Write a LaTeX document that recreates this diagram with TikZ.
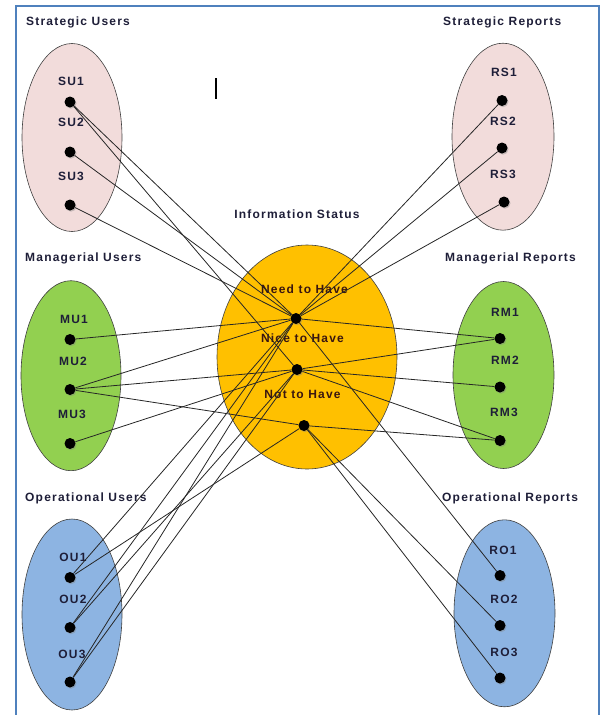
\documentclass[tikz,border=0pt]{standalone}
\usepackage{fontspec}
\newfontfamily\diagfont{Liberation Sans}[LetterSpace=10]
\usetikzlibrary{positioning,shapes.geometric,shadows}

\definecolor{strategicfill}{HTML}{F2DCDB}
\definecolor{managerialfill}{HTML}{92D050}
\definecolor{operationalfill}{HTML}{8DB4E2}
\definecolor{statusfill}{HTML}{FFC000}
\definecolor{framecol}{HTML}{4F81BD}
\definecolor{labeltext}{HTML}{1E1E38}
\definecolor{statustext}{HTML}{3A1610}

\tikzset{
  cluster/.style={ellipse, draw=black!75, line width=0.6pt, minimum width=100pt, minimum height=188pt},
  itemdot/.style={circle, fill=black, inner sep=0pt, minimum size=11pt,
    drop shadow={shadow xshift=1pt, shadow yshift=-1.2pt, opacity=0.4}},
  lbl/.style={inner sep=0pt, text=labeltext},
  grouptitle/.style={inner sep=0pt, anchor=base west, text=labeltext},
  link/.style={draw=black!85, line width=0.8pt},
}

\begin{document}
\begin{tikzpicture}[x=1pt, y=-1pt, font=\diagfont\bfseries\fontsize{12}{14}\selectfont]

  \useasboundingbox (0,0) rectangle (603,715);

  % Frame
  \draw[framecol, line width=2pt] (16,715) -- (16,6) -- (598.5,6) -- (598.5,715);
  \draw[line width=2.5pt] (216,78) -- (216,99);

  % Define groups
  \node[cluster, fill=strategicfill]                       (su) at (72,137.5) {};
  \node[cluster, fill=managerialfill, minimum height=190pt] (mu) at (71,375.7) {};
  \node[cluster, fill=operationalfill, minimum height=191pt] (ou) at (72,614.5) {};
  \node[cluster, fill=strategicfill, minimum width=102pt, minimum height=187pt]   (rs) at (503,136.7) {};
  \node[cluster, fill=managerialfill, minimum width=101pt, minimum height=187pt]  (rm) at (503.5,375) {};
  \node[cluster, fill=operationalfill, minimum width=101pt, minimum height=187pt] (ro) at (504.5,613.3) {};
  \node[cluster, fill=statusfill, minimum width=180pt, minimum height=224pt]       (status) at (307,357) {};

  % Group titles
  \node[grouptitle] (t_su) at (26,25.5)  {Strategic Users};
  \node[grouptitle] (t_rs) at (443,25.5) {Strategic Reports};
  \node[grouptitle] (t_mu) at (25,261.5) {Managerial Users};
  \node[grouptitle] (t_rm) at (445,261.5) {Managerial Reports};
  \node[grouptitle] (t_ou) at (25,501.5) {Operational Users};
  \node[grouptitle] (t_ro) at (442,501.5) {Operational Reports};
  \node[grouptitle, anchor=base] (t_status) at (297,218.5) {Information Status};

  % Define nodes
  \node[itemdot] (su1) at (70,102) {};
  \node[itemdot] (su2) at (70,152) {};
  \node[itemdot] (su3) at (70,205) {};
  \node[itemdot] (mu1) at (70,339.5) {};
  \node[itemdot] (mu2) at (70,389.5) {};
  \node[itemdot] (mu3) at (70,443.5) {};
  \node[itemdot] (ou1) at (70,577.5) {};
  \node[itemdot] (ou2) at (70,627.5) {};
  \node[itemdot] (ou3) at (70,682) {};
  \node[itemdot] (rs1) at (502,100.5) {};
  \node[itemdot] (rs2) at (502,148) {};
  \node[itemdot] (rs3) at (504,202) {};
  \node[itemdot] (rm1) at (500,338.5) {};
  \node[itemdot] (rm2) at (500,387) {};
  \node[itemdot] (rm3) at (500,440.5) {};
  \node[itemdot] (ro1) at (500,575.5) {};
  \node[itemdot] (ro2) at (500,625.5) {};
  \node[itemdot] (ro3) at (500,678) {};
  \node[itemdot] (need) at (296,318.5) {};
  \node[itemdot] (nice) at (297,369.5) {};
  \node[itemdot] (nott) at (304,425.5) {};

  % Node labels
  \node[lbl, above=10.5pt of su1, xshift=1pt] (l_su1) {SU1};
  \node[lbl, above=19pt of su2, xshift=1pt] (l_su2) {SU2};
  \node[lbl, above=18pt of su3, xshift=1pt] (l_su3) {SU3};
  \node[lbl, above=9.5pt of mu1, xshift=4pt] (l_mu1) {MU1};
  \node[lbl, above=17.5pt of mu2, xshift=3pt] (l_mu2) {MU2};
  \node[lbl, above=18.5pt of mu3, xshift=2pt] (l_mu3) {MU3};
  \node[lbl, above=9.5pt of ou1, xshift=3pt] (l_ou1) {OU1};
  \node[lbl, above=17.5pt of ou2, xshift=3pt] (l_ou2) {OU2};
  \node[lbl, above=17pt of ou3, xshift=2pt] (l_ou3) {OU3};
  \node[lbl, above=17.5pt of rs1, xshift=2pt] (l_rs1) {RS1};
  \node[lbl, above=16pt of rs2, xshift=1pt] (l_rs2) {RS2};
  \node[lbl, above=17pt of rs3, xshift=-1pt] (l_rs3) {RS3};
  \node[lbl, above=16.5pt of rm1, xshift=5pt] (l_rm1) {RM1};
  \node[lbl, above=16.5pt of rm2, xshift=5pt] (l_rm2) {RM2};
  \node[lbl, above=17.5pt of rm3, xshift=4pt] (l_rm3) {RM3};
  \node[lbl, above=14.5pt of ro1, xshift=3pt] (l_ro1) {RO1};
  \node[lbl, above=15.5pt of ro2, xshift=4pt] (l_ro2) {RO2};
  \node[lbl, above=15pt of ro3, xshift=4pt] (l_ro3) {RO3};
  \node[lbl, text=statustext, above=18.5pt of need, xshift=8.5pt] (l_need) {Need to Have};
  \node[lbl, text=statustext, above=21pt of nice, xshift=5.5pt] (l_nice) {Nice to Have};
  \node[lbl, text=statustext, above=21pt of nott, xshift=-1.5pt] (l_nott) {Not to Have};

  % Connect the nodes
  \draw[link] (su1) -- (need);
  \draw[link] (su1) -- (nice);
  \draw[link] (su2) -- (need);
  \draw[link] (su3) -- (need);
  \draw[link] (rs1) -- (need);
  \draw[link] (rs2) -- (need);
  \draw[link] (rs3) -- (need);
  \draw[link] (mu1) -- (need);
  \draw[link] (mu2) -- (need);
  \draw[link] (mu2) -- (nice);
  \draw[link] (mu2) -- (nott);
  \draw[link] (mu3) -- (nice);
  \draw[link] (need) -- (rm1);
  \draw[link] (nice) -- (rm1);
  \draw[link] (nice) -- (rm2);
  \draw[link] (nice) -- (rm3);
  \draw[link] (nott) -- (rm3);
  \draw[link] (ou1) -- (need);
  \draw[link] (ou1) -- (nott);
  \draw[link] (ou2) -- (need);
  \draw[link] (ou2) -- (nice);
  \draw[link] (ou3) -- (need);
  \draw[link] (ou3) -- (nice);
  \draw[link] (need) -- (ro1);
  \draw[link] (nott) -- (ro2);
  \draw[link] (nott) -- (ro3);

\end{tikzpicture}
\end{document}
